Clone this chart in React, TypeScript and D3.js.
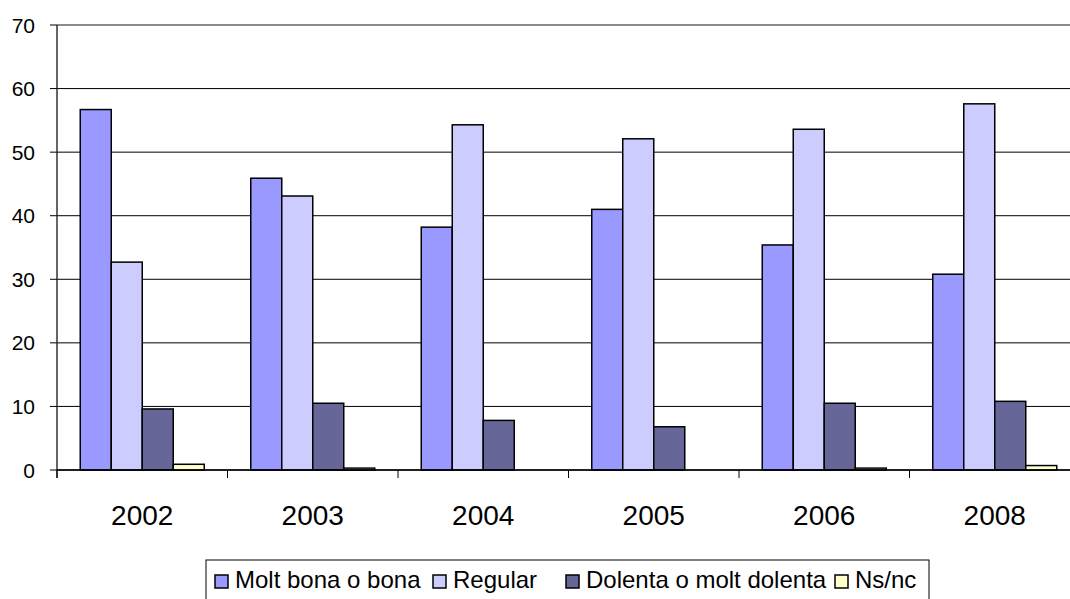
import * as d3 from "d3";

// Chart data
const years = ["2002", "2003", "2004", "2005", "2006", "2008"];
const moltBona = [56.7, 45.9, 38.2, 41.0, 35.4, 30.8];
const regular = [32.7, 43.1, 54.3, 52.1, 53.6, 57.6];
const dolenta = [9.6, 10.5, 7.8, 6.8, 10.5, 10.8];
const nsnc = [0.9, 0.3, 0, 0, 0.3, 0.7];
const seriesNames = ["Molt bona o bona", "Regular", "Dolenta o molt dolenta", "Ns/nc"];
const seriesColors = ["#9999FF", "#CCCCFF", "#666699", "#FFFFCC"];
const yTicks = [0, 10, 20, 30, 40, 50, 60, 70];

const W = 1070;
const H = 599;
const left = 57;
const right = 1080; // plot area runs past the cropped picture edge
const top = 25;
const bottom = 470;
const font = "'Liberation Sans', Arial, sans-serif";

// legend item x positions
const legendX = [215, 433, 566, 835];

export default function App() {
  const series = [moltBona, regular, dolenta, nsnc];

  const x = d3.scaleBand().domain(years).range([left, right]).padding(0);
  const barW = x.bandwidth() / (series.length + 1.5);
  const inner = d3
    .scaleBand()
    .domain(d3.range(series.length).map(String))
    .range([barW * 0.75, barW * 0.75 + barW * series.length]);
  const y = d3.scaleLinear().domain([0, 70]).range([bottom, top]);

  const boundaries = years.map((yr) => x(yr) as number).concat([right]);

  return (
    <svg
      width={W}
      height={H}
      style={{ position: "absolute", left: 0, top: 0, background: "#fff" }}
      fontFamily={font}
    >
      {/* gridlines */}
      {yTicks.map((t) => (
        <line
          key={"g" + t}
          x1={left}
          x2={right}
          y1={y(t)}
          y2={y(t)}
          stroke={t === 70 ? "#8a8a8a" : "#000"}
          strokeWidth={t === 70 ? 2 : 1}
        />
      ))}

      {/* bars */}
      {years.map((yr, i) => (
        <g key={yr} transform={`translate(${x(yr)},0)`}>
          {series.map((s, j) => {
            const v = s[i];
            if (v <= 0) return null;
            const bx = inner(String(j)) as number;
            return (
              <rect
                key={j}
                x={bx}
                y={y(v)}
                width={barW}
                height={bottom - y(v)}
                fill={seriesColors[j]}
                stroke="#000"
                strokeWidth={1.5}
              />
            );
          })}
        </g>
      ))}

      {/* y axis */}
      <line x1={left} x2={left} y1={top} y2={bottom + 8} stroke="#333" strokeWidth={1.5} />
      {yTicks.map((t) => (
        <g key={"y" + t}>
          <line x1={left - 7} x2={left} y1={y(t)} y2={y(t)} stroke="#000" />
          <text x={35} y={y(t)} dy="0.36em" textAnchor="end" fontSize={21} fill="#000">
            {t}
          </text>
        </g>
      ))}

      {/* x axis */}
      <line x1={left} x2={right} y1={bottom} y2={bottom} stroke="#000" strokeWidth={1.5} />
      {boundaries.map((b, i) => (
        <line key={"xt" + i} x1={b} x2={b} y1={bottom} y2={bottom + 8} stroke="#000" />
      ))}
      {years.map((yr) => (
        <text
          key={"xl" + yr}
          x={(x(yr) as number) + x.bandwidth() / 2}
          y={525}
          textAnchor="middle"
          fontSize={28}
          fill="#000"
        >
          {yr}
        </text>
      ))}

      {/* legend */}
      <rect x={206} y={560} width={723} height={60} fill="#fff" stroke="#000" strokeWidth={1} />
      {seriesNames.map((name, j) => (
        <g key={name} transform={`translate(${legendX[j]},0)`}>
          <rect x={0} y={575} width={13} height={13} fill={seriesColors[j]} stroke="#000" strokeWidth={1.5} />
          <text x={20} y={588} fontSize={24} fill="#000">
            {name}
          </text>
        </g>
      ))}
    </svg>
  );
}
